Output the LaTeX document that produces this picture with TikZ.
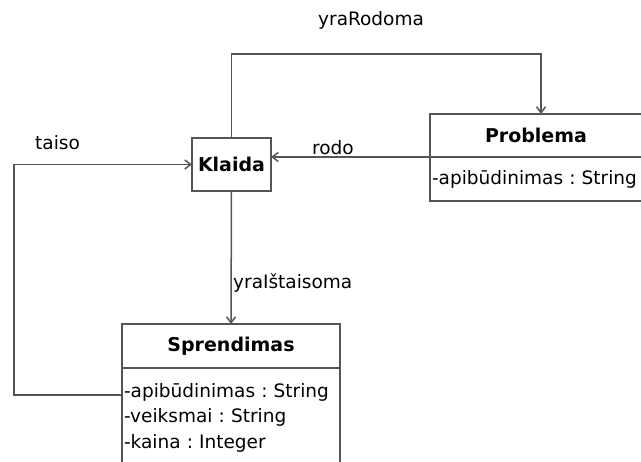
\documentclass[tikz,border=0pt]{standalone}
\usepackage{fontspec}
\setmainfont{DejaVu Sans}
\usetikzlibrary{arrows.meta}
\definecolor{linegray}{HTML}{555555}
\frenchspacing
\tikzset{
  classhead/.style={draw=linegray, line width=1.5pt, rectangle, inner sep=0pt, outer sep=0pt,
    font=\fontsize{19}{24}\selectfont\bfseries},
  classbody/.style={draw=linegray, line width=1.5pt, rectangle, inner xsep=2pt, outer sep=0pt,
    align=left, font=\fontsize{18.5}{25.5}\selectfont},
  assoc/.style={draw=linegray, line width=1.5pt, -{Straight Barb[length=6pt,width=9pt]}},
  lbl/.style={inner sep=0pt, font=\fontsize{18.5}{25.5}\selectfont}
}
\begin{document}
\begin{tikzpicture}[x=1pt, y=-1pt]
          \useasboundingbox (0, 0) rectangle (641, 462);
          \clip (0, 0) rectangle (641, 462);
          \node[classhead, minimum width=79pt, minimum height=53pt] (kl) at (231.5, 164.5){Klaida};
          \node[classhead, minimum width=212pt, minimum height=43pt, anchor=north west] (pbhead) at (430, 114){Problema};
          \node[classbody, text width=208pt, minimum height=44pt, anchor=north west] (pbbody) at (pbhead.south west){-apibūdinimas : String};
          \node[classhead, minimum width=218pt, minimum height=44pt, anchor=north west] (sphead) at (122, 324){Sprendimas};
          \node[classbody, text width=214pt, inner ysep=15pt, anchor=north west] (spbody) at (sphead.south west){-apibūdinimas : String\\-veiksmai : String\\-kaina : Integer};
          \node[lbl, anchor=west] (yraRodoma) at (318, 20){yraRodoma};
          \node[lbl, anchor=west] (rodo) at (312, 148){rodo};
          \node[lbl, anchor=west] (taiso) at (35, 143){taiso};
          \node[lbl, anchor=west] (yraIstaisoma) at (233, 283){yraIštaisoma};
          \draw[assoc] (kl.north) -- ++(0, -84) -| ([xshift=5pt]pbhead.north);
          \draw[assoc] (pbhead.south west) -- (pbhead.south west -| kl.east);
          \draw[assoc] (kl.south) -- (sphead.north);
          \draw[assoc] ([yshift=-27pt]sphead.south west) -- ++(-108, 0) |- (kl.west);
       \end{tikzpicture}
\end{document}
